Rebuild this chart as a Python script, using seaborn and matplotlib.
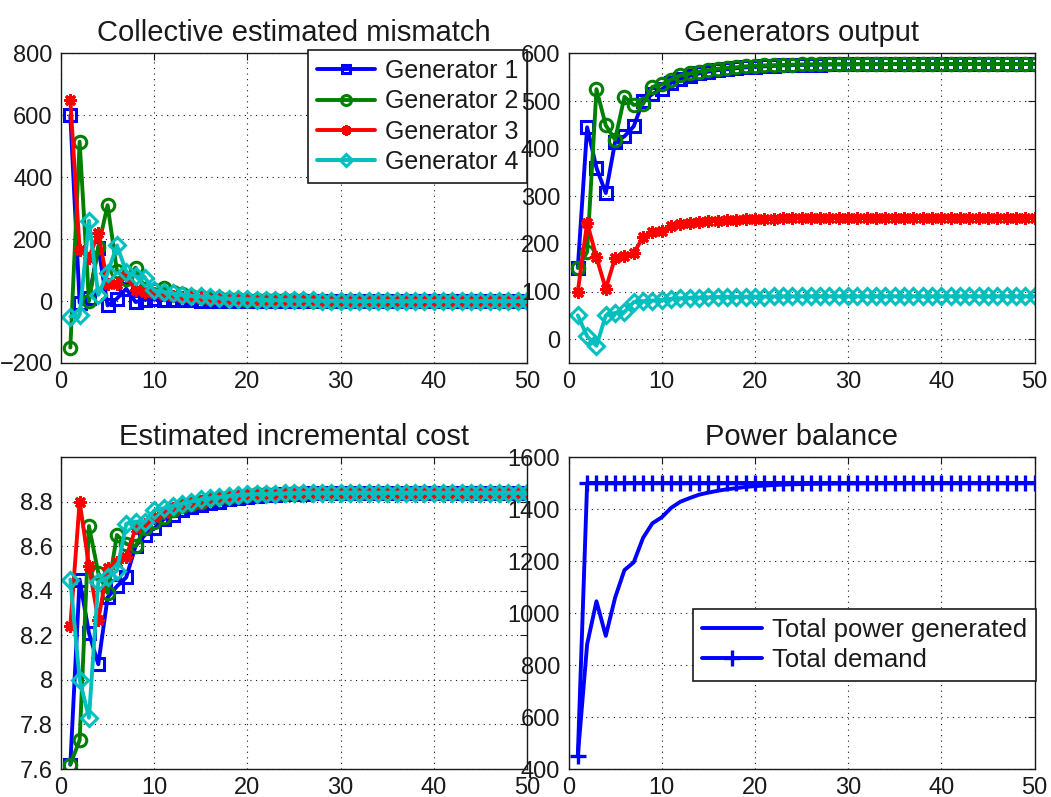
import matplotlib
matplotlib.use("Agg")
import matplotlib.pyplot as plt
import seaborn as sns
import numpy as np

iters = list(range(1, 51))

# Collective estimated mismatch
g1_mis = [600, -5, 10, 173, -14, 8, 40, -3, 5, 6, 4, 3, 2, 2, 1, 1, 1, 1, 0, 0,
          0, 0, 0, 0, 0, 0, 0, 0, 0, 0, 0, 0, 0, 0, 0, 0, 0, 0, 0, 0,
          0, 0, 0, 0, 0, 0, 0, 0, 0, 0]
g2_mis = [-150, 515, 0, 175, 310, 98, 70, 108, 40, 35, 42, 28, 22, 18, 14, 11, 9, 7, 6, 5,
          4, 3, 3, 2, 2, 2, 1, 1, 1, 1, 0, 0, 0, 0, 0, 0, 0, 0, 0, 0,
          0, 0, 0, 0, 0, 0, 0, 0, 0, 0]
g3_mis = [650, 165, 140, 220, 55, 55, 80, 35, 30, 25, 20, 17, 14, 12, 10, 8, 7, 6, 5, 4,
          3, 3, 2, 2, 2, 1, 1, 1, 1, 1, 0, 0, 0, 0, 0, 0, 0, 0, 0, 0,
          0, 0, 0, 0, 0, 0, 0, 0, 0, 0]
g4_mis = [-50, -45, 260, 20, 90, 180, 95, 80, 75, 35, 30, 25, 20, 17, 15, 12, 10, 8, 7, 6,
          5, 4, 3, 3, 2, 2, 2, 1, 1, 1, 0, 0, 0, 0, 0, 0, 0, 0, 0, 0,
          0, 0, 0, 0, 0, 0, 0, 0, 0, 0]

# Generators output
g1_out = [150, 445, 360, 307, 414, 426, 447, 500, 515, 525, 538, 547, 553, 558, 562, 565, 567, 569, 571, 572,
          573, 574, 575, 575.5, 576, 576.3, 576.6, 577, 577, 577.2, 577.4, 577.5, 577.6, 577.7, 577.8, 577.8, 577.9, 577.9, 578, 578,
          578, 578, 578, 578, 578, 578, 578, 578, 578, 578]
g2_out = [150, 183, 525, 449, 419, 509, 492, 494, 530, 535, 545, 554, 558, 562, 565, 568, 570, 571, 573, 574,
          575, 575.5, 576, 576.5, 577, 577, 577.3, 577.5, 577.6, 577.7, 577.8, 577.8, 577.9, 577.9, 578, 578, 578, 578, 578, 578,
          578, 578, 578, 578, 578, 578, 578, 578, 578, 578]
g3_out = [100, 245, 172, 106, 171, 175, 180, 215, 225, 228, 238, 241, 244, 246, 248, 249, 250, 251, 252, 252.5,
          253, 253.3, 253.6, 254, 254.2, 254.4, 254.5, 254.6, 254.7, 254.8, 254.8, 254.9, 254.9, 255, 255, 255, 255, 255, 255, 255,
          255, 255, 255, 255, 255, 255, 255, 255, 255, 255]
g4_out = [50, 6, -14, 50, 55, 57, 78, 80, 81, 83, 85, 86, 87, 87.5, 88, 88.5, 89, 89, 89.3, 89.5,
          89.6, 89.7, 89.8, 89.8, 89.9, 89.9, 90, 90, 90, 90, 90, 90, 90, 90, 90, 90, 90, 90, 90, 90,
          90, 90, 90, 90, 90, 90, 90, 90, 90, 90]

# Estimated incremental cost
g1_lam = [7.62, 8.45, 8.21, 8.07, 8.37, 8.42, 8.46, 8.60, 8.65, 8.68, 8.72, 8.74, 8.76, 8.775, 8.785, 8.795, 8.80, 8.81, 8.815, 8.82,
          8.825, 8.828, 8.83, 8.833, 8.835, 8.836, 8.837, 8.838, 8.839, 8.839, 8.84, 8.84, 8.84, 8.84, 8.84, 8.84, 8.84, 8.84, 8.84, 8.84,
          8.84, 8.84, 8.84, 8.84, 8.84, 8.84, 8.84, 8.84, 8.84, 8.84]
g2_lam = [7.62, 7.73, 8.69, 8.48, 8.39, 8.65, 8.61, 8.60, 8.68, 8.71, 8.73, 8.76, 8.78, 8.79, 8.80, 8.81, 8.815, 8.82, 8.825, 8.83,
          8.832, 8.834, 8.835, 8.836, 8.837, 8.838, 8.839, 8.84, 8.84, 8.84, 8.84, 8.84, 8.84, 8.84, 8.84, 8.84, 8.84, 8.84, 8.84, 8.84,
          8.84, 8.84, 8.84, 8.84, 8.84, 8.84, 8.84, 8.84, 8.84, 8.84]
g3_lam = [8.24, 8.80, 8.51, 8.27, 8.50, 8.53, 8.55, 8.68, 8.70, 8.73, 8.75, 8.77, 8.78, 8.79, 8.80, 8.81, 8.815, 8.82, 8.825, 8.83,
          8.832, 8.834, 8.835, 8.836, 8.837, 8.838, 8.839, 8.84, 8.84, 8.84, 8.84, 8.84, 8.84, 8.84, 8.84, 8.84, 8.84, 8.84, 8.84, 8.84,
          8.84, 8.84, 8.84, 8.84, 8.84, 8.84, 8.84, 8.84, 8.84, 8.84]
g4_lam = [8.45, 8.00, 7.83, 8.44, 8.46, 8.49, 8.70, 8.71, 8.71, 8.76, 8.77, 8.78, 8.79, 8.80, 8.81, 8.815, 8.82, 8.825, 8.83, 8.832,
          8.834, 8.835, 8.836, 8.837, 8.838, 8.839, 8.84, 8.84, 8.84, 8.84, 8.84, 8.84, 8.84, 8.84, 8.84, 8.84, 8.84, 8.84, 8.84, 8.84,
          8.84, 8.84, 8.84, 8.84, 8.84, 8.84, 8.84, 8.84, 8.84, 8.84]

# Power balance
total_gen = [450, 880, 1045, 912, 1059, 1165, 1195, 1289, 1345, 1368, 1404, 1428, 1442, 1455, 1463, 1470, 1476, 1480, 1485, 1488,
             1490, 1492, 1494, 1495, 1496, 1497, 1497.5, 1498, 1498.5, 1499, 1499, 1499.5, 1499.5, 1500, 1500, 1500, 1500, 1500, 1500, 1500,
             1500, 1500, 1500, 1500, 1500, 1500, 1500, 1500, 1500, 1500]
total_demand = [450, 1500, 1500, 1500, 1500, 1500, 1500, 1500, 1500, 1500, 1500, 1500, 1500, 1500, 1500, 1500, 1500, 1500, 1500, 1500,
                1500, 1500, 1500, 1500, 1500, 1500, 1500, 1500, 1500, 1500, 1500, 1500, 1500, 1500, 1500, 1500, 1500, 1500, 1500, 1500,
                1500, 1500, 1500, 1500, 1500, 1500, 1500, 1500, 1500, 1500]

gen_labels = ["Generator 1", "Generator 2", "Generator 3", "Generator 4"]
titles = ["Collective estimated mismatch", "Generators output",
          "Estimated incremental cost", "Power balance"]

sns.set_theme(style="white")
plt.rcParams['font.family'] = ['Liberation Sans', 'DejaVu Sans']
plt.rcParams['text.color'] = 'k'
plt.rcParams['axes.titlecolor'] = 'k'

colors = ["#0000ff", "#008000", "#ff0000", "#00bfbf"]
markers = ["s", "o", (8, 2, 0), "D"]
msizes = [8, 9, 9, 8]

W, H = 1051, 797
fig = plt.figure(figsize=(W / 100, H / 100), dpi=100)

def add_ax(l, t, r, b):
    return fig.add_axes([l / W, 1 - b / H, (r - l) / W, (b - t) / H])

ax1 = add_ax(61, 53.5, 527, 363)
ax2 = add_ax(568.5, 53.5, 1034.5, 363)
ax3 = add_ax(61, 457, 527, 769)
ax4 = add_ax(568.5, 457, 1034.5, 769)

def style(ax, ylim, yticks, title):
    ax.set_xlim(0, 50)
    ax.set_xticks([0, 10, 20, 30, 40, 50])
    ax.set_ylim(*ylim)
    ax.set_yticks(yticks)
    ax.grid(True, color='k', linestyle=(0, (1, 4)), linewidth=0.8)
    ax.tick_params(direction='in', top=True, right=True, length=5, width=0.8,
                   labelsize=17, colors='k', pad=6)
    for s in ax.spines.values():
        s.set_color('k')
        s.set_linewidth(1.0)
    ax.set_title(title, fontsize=21, pad=9, color='k')
    ax.set_xlabel("")
    ax.set_ylabel("")

def plot_gens(ax, series, legend=False):
    for i, ys in enumerate(series):
        sns.lineplot(x=iters, y=ys, ax=ax, color=colors[i], linewidth=2.8,
                     marker=markers[i], markersize=msizes[i],
                     markerfacecolor='none' if i != 2 else colors[i],
                     markeredgecolor=colors[i], markeredgewidth=2.2,
                     label=gen_labels[i] if legend else None, legend=False)

plot_gens(ax1, [g1_mis, g2_mis, g3_mis, g4_mis], legend=True)
style(ax1, (-200, 800), [-200, 0, 200, 400, 600, 800], titles[0])
ax1.set_yticklabels(["\u2212200", "0", "200", "400", "600", "800"])
leg = ax1.legend(loc='upper right', bbox_to_anchor=(1.0, 1.01), borderaxespad=0,
                 fontsize=18, frameon=True, fancybox=False, framealpha=1,
                 edgecolor='k', handlelength=2.3, labelspacing=0.25,
                 handletextpad=0.4, borderpad=0.35, markerscale=0.8)
leg.get_frame().set_linewidth(1.2)

plot_gens(ax2, [g1_out, g2_out, g3_out, g4_out])
style(ax2, (-50, 600), [0, 100, 200, 300, 400, 500, 600], titles[1])

plot_gens(ax3, [g1_lam, g2_lam, g3_lam, g4_lam])
style(ax3, (7.6, 9.0), [7.6, 7.8, 8.0, 8.2, 8.4, 8.6, 8.8], titles[2])
ax3.set_yticklabels(["7.6", "7.8", "8", "8.2", "8.4", "8.6", "8.8"])

sns.lineplot(x=iters, y=total_gen, ax=ax4, color="#0000ff", linewidth=2.8,
             label="Total power generated", legend=False)
sns.lineplot(x=iters, y=total_demand, ax=ax4, color="#0000ff", linewidth=2.8,
             marker='+', markersize=11, markeredgewidth=2.4,
             markeredgecolor="#0000ff", markerfacecolor="#0000ff",
             label="Total demand", legend=False)
style(ax4, (400, 1600), [400, 600, 800, 1000, 1200, 1400, 1600], titles[3])
leg2 = ax4.legend(loc='upper right', bbox_to_anchor=(1.003, 0.514), borderaxespad=0,
                  fontsize=18.5, frameon=True, fancybox=False, framealpha=1,
                  edgecolor='k', handlelength=2.3, labelspacing=0.25,
                  handletextpad=0.4, borderpad=0.35)
leg2.get_frame().set_linewidth(1.2)

fig.savefig("out.png", dpi=100)
